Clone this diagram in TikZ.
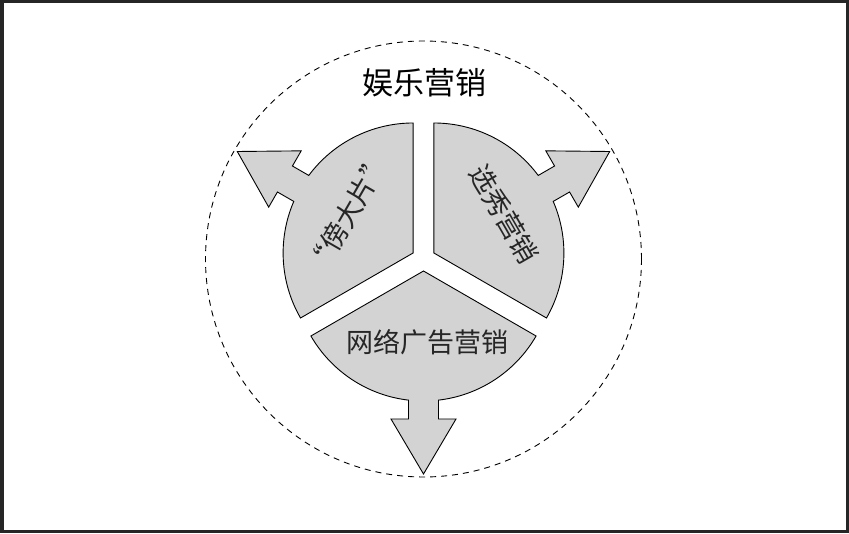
\documentclass[tikz,border=0pt]{standalone}
\usepackage{fontspec}
\setmainfont{Noto Sans CJK SC}
\newfontfamily\cjk{Noto Sans CJK SC}
\definecolor{petalgray}{RGB}{211,211,211}
\tikzset{
  petalfill/.style={draw=black,line width=0.9pt,fill=petalgray,line join=miter},
  petallabel/.style={font=\cjk\fontsize{27}{27}\selectfont,text=black!85,inner sep=0pt},
  ring/.style={draw=black,line width=0.9pt,dash pattern=on 6pt off 5pt}
}
% one exploded sector with its arrow, #1 = direction of the arrow
\newcommand{\petal}[1]{%
  \begin{scope}[shift={(423.5,274)},rotate=#1]
    \draw[petalfill] (12,0) -- ++(60:130) arc[start angle=60,end angle=6.625,radius=130]
      -- (160,15) -- (160,32.5) -- (215,0) -- (160,-32.5) -- (160,-15) -- (141.13,-15)
      arc[start angle=-6.625,end angle=-60,radius=130] -- cycle;
  \end{scope}}

\begin{document}
\begin{tikzpicture}[x=1pt,y=1pt]
  \useasboundingbox (0,0) rectangle (849,533);
  \draw[line width=3.5pt,black!85] (1.75,1.75) rectangle (847.25,531.25);
  \coordinate (C) at (423.5,274);
  \draw[ring] (C) circle[radius=218];
  \petal{150} \petal{30} \petal{-90}
  \node[font=\cjk\fontsize{31}{31}\selectfont,inner sep=0pt] (title) at (424,450) {娱乐营销};
  \node[petallabel,rotate=60] (bang) at ([shift={(149:88)}]C) {“傍大片”};
  \node[petallabel,rotate=-60] (xuanxiu) at ([shift={(29:92)}]C) {选秀营销};
  \node[petallabel] (wangluo) at ([shift={(4,-83)}]C) {网络广告营销};
\end{tikzpicture}
\end{document}
